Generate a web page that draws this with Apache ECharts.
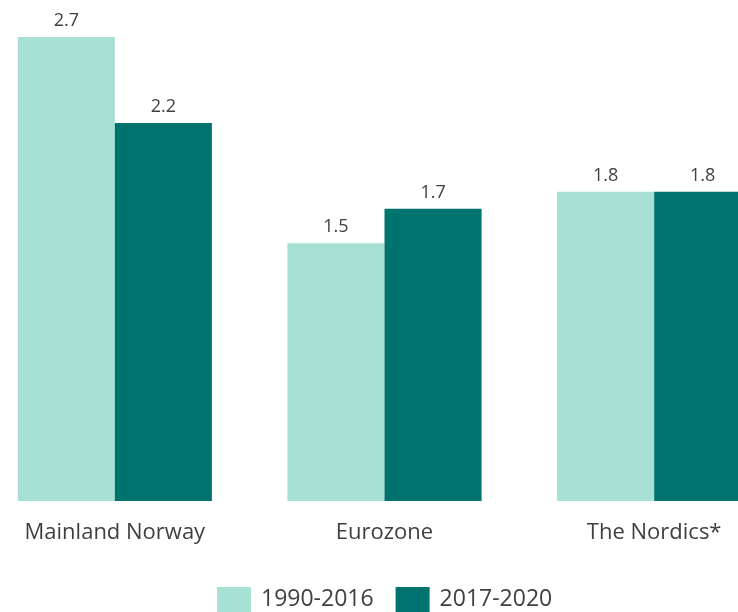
<!DOCTYPE html>
<html>
<head>
<meta charset="utf-8">
<script src="https://cdn.jsdelivr.net/npm/echarts@6/dist/echarts.min.js"></script>
<style>
  html, body { margin: 0; padding: 0; background: #fff; }
  #chart { width: 738px; height: 612px; }
</style>
</head>
<body>
<div id="chart"></div>
<script>
const categories = ['Mainland Norway', 'Eurozone', 'The Nordics*'];
const seriesNames = ['1990-2016', '2017-2020'];
const earlyValues = [2.7, 1.5, 1.8];
const lateValues = [2.2, 1.7, 1.8];

const fontFamily = '"Open Sans", "Noto Sans", sans-serif';
const textColor = '#404040';

const chart = echarts.init(document.getElementById('chart'));

const barLabel = {
  show: true,
  position: 'top',
  distance: 7,
  color: textColor,
  fontSize: 18,
  fontFamily: fontFamily,
  formatter: (p) => p.value.toFixed(1),
};

const option = {
  backgroundColor: '#fff',
  animation: false,
  grid: {
    left: -20,
    right: -51,
    top: 37,
    bottom: 111,
    outerBoundsMode: 'none',
  },
  legend: {
    data: seriesNames,
    top: 587,
    left: 217,
    padding: 0,
    itemWidth: 34,
    itemHeight: 25,
    itemGap: 22,
    icon: 'rect',
    textStyle: {
      color: textColor,
      fontSize: 23,
      fontFamily: fontFamily,
      padding: [0, 0, 0, 5],
    },
  },
  xAxis: {
    type: 'category',
    data: categories,
    axisLine: { show: false },
    axisTick: { show: false },
    axisLabel: {
      margin: 21,
      color: textColor,
      fontSize: 22,
      fontFamily: fontFamily,
      interval: 0,
    },
  },
  yAxis: {
    type: 'value',
    min: 0,
    max: 2.7,
    show: false,
    splitLine: { show: false },
  },
  series: [
    {
      name: seriesNames[0],
      type: 'bar',
      data: earlyValues,
      barGap: '0%',
      barCategoryGap: '28%',
      itemStyle: { color: '#a6e1d4' },
      label: barLabel,
    },
    {
      name: seriesNames[1],
      type: 'bar',
      data: lateValues,
      itemStyle: { color: '#00736f' },
      label: barLabel,
    },
  ],
};

chart.setOption(option);
window.addEventListener('resize', () => {
  chart.resize();
});
</script>
</body>
</html>
